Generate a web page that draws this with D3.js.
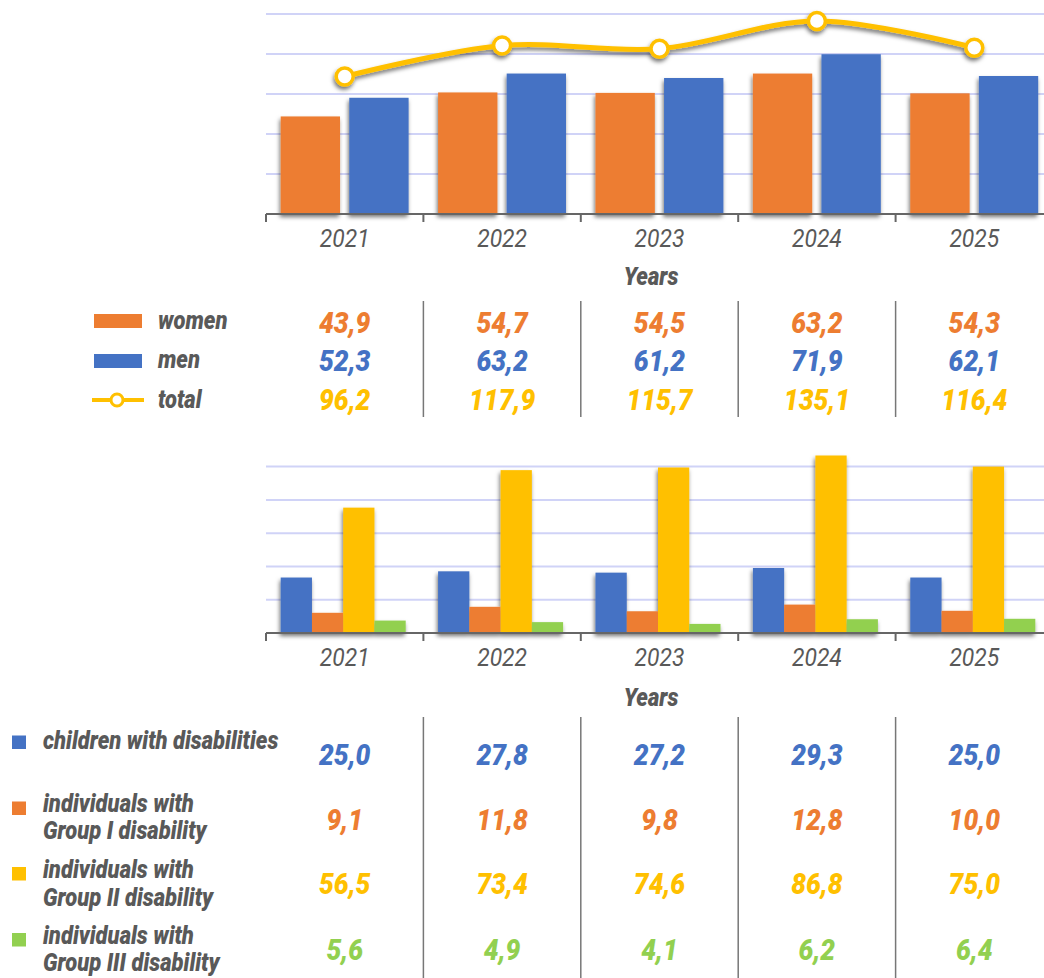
<!DOCTYPE html>
<html><head><meta charset="utf-8">
<script src="https://cdn.jsdelivr.net/npm/d3@7"></script>
<style>body{margin:0;background:#fff}svg{display:block}text{font-family:Roboto,'Noto Sans',sans-serif}</style>
</head><body><svg id="c" width="1044" height="978"></svg>
<script>
const years = ['2021','2022','2023','2024','2025'];
const women = [43.9, 54.7, 54.5, 63.2, 54.3];
const men = [52.3, 63.2, 61.2, 71.9, 62.1];
const total = [96.2, 117.9, 115.7, 135.1, 116.4];
const children = [25.0, 27.8, 27.2, 29.3, 25.0];
const group1 = [9.1, 11.8, 9.8, 12.8, 10.0];
const group2 = [56.5, 73.4, 74.6, 86.8, 75.0];
const group3 = [5.6, 4.9, 4.1, 6.2, 6.4];
const topTicks = [18, 36, 54, 72, 90];
const bottomTicks = [15, 30, 45, 60, 75];
const axisTitle = 'Years';

const C = {orange:'#ED7D31', blue:'#4472C4', yellow:'#FFC000', green:'#92D050', label:'#595959', grid:'#D0D3F7', axis:'#666'};

const svg = d3.select('#c');
const defs = svg.append('defs');
const f = defs.append('filter').attr('id','sh').attr('filterUnits','userSpaceOnUse')
  .attr('x',0).attr('y',0).attr('width',1044).attr('height',978);
f.append('feDropShadow').attr('dx',-1).attr('dy',3).attr('stdDeviation',2)
  .attr('flood-color','#000').attr('flood-opacity',0.55);

const SX = 0.88;
function txt(g, x, y, s, o) {
  return g.append('text')
    .attr('transform', `translate(${x},${y}) scale(${SX},1)`)
    .attr('text-anchor', o.anchor || 'start')
    .attr('font-size', o.size)
    .attr('font-weight', o.weight || 900)
    .attr('font-style', 'italic')
    .attr('fill', o.color || C.label)
    .text(s);
}
const fmt = v => d3.format('.1f')(v).replace('.', ',');

const x = d3.scaleBand().domain(years).range([266, 266 + 5 * 157.4]);
const bw = x.bandwidth();
const cx = d => x(d) + bw / 2;
const W = 1044;

function chartFrame(yScale, ticks) {
  const g = svg.append('g');
  g.selectAll('line.grid').data(ticks).join('line')
    .attr('x1', 266).attr('x2', W)
    .attr('y1', d => yScale(d)).attr('y2', d => yScale(d))
    .attr('stroke', C.grid).attr('stroke-width', 2);
  return g;
}
function chartAxis(y0, titleY) {
  const g = svg.append('g');
  g.append('line').attr('x1', 266).attr('x2', W).attr('y1', y0).attr('y2', y0)
    .attr('stroke', C.axis).attr('stroke-width', 2);
  const bounds = years.map(d => x(d));
  g.selectAll('line.tk').data(bounds).join('line')
    .attr('x1', d => d).attr('x2', d => d).attr('y1', y0).attr('y2', y0 + 8)
    .attr('stroke', C.axis).attr('stroke-width', 2);
  const ax = g.append('g').attr('transform', `translate(0,${y0})`)
    .call(d3.axisBottom(x).tickSize(0).tickPadding(15));
  ax.select('.domain').remove();
  ax.selectAll('text').attr('font-size', 26).attr('font-style', 'italic')
    .attr('font-family', 'Roboto, sans-serif').attr('fill', C.label)
    .attr('transform', `scale(${SX},1)`);
  txt(g, 651, titleY, axisTitle, {anchor:'middle', size:25});
}

// ---------- Top chart ----------
const yT = d3.scaleLinear().domain([0, 90]).range([214, 14]);
const yT2 = d3.scaleLinear().domain([0, 140]).range([214, 14]);
chartFrame(yT, topTicks);
const x1 = d3.scaleBand().domain(['women','men']).range([14.7, 142.6]).paddingInner(0.135);
const topSeries = [{k:'women', v:women, c:C.orange}, {k:'men', v:men, c:C.blue}];
const gTop = svg.append('g').attr('filter', 'url(#sh)');
topSeries.forEach(s => {
  gTop.selectAll(null).data(years).join('rect')
    .attr('x', (d) => x(d) + x1(s.k)).attr('width', x1.bandwidth())
    .attr('y', (d, i) => yT(s.v[i])).attr('height', (d, i) => 214 - yT(s.v[i]))
    .attr('fill', s.c);
});
chartAxis(214, 285);
const line = d3.line().x((d, i) => cx(years[i])).y(d => yT2(d)).curve(d3.curveCardinal.tension(0));
const gLine = svg.append('g').attr('filter', 'url(#sh)');
gLine.append('path').attr('d', line(total)).attr('fill', 'none').attr('stroke', C.yellow).attr('stroke-width', 5);
gLine.selectAll('circle').data(total).join('circle')
  .attr('cx', (d, i) => cx(years[i])).attr('cy', d => yT2(d)).attr('r', 8.5)
  .attr('fill', '#fff').attr('stroke', C.yellow).attr('stroke-width', 3.5);

// ---------- Top table ----------
const tT = svg.append('g');
tT.selectAll('line').data(years.slice(1)).join('line')
  .attr('x1', d => x(d)).attr('x2', d => x(d)).attr('y1', 301).attr('y2', 417)
  .attr('stroke', '#777').attr('stroke-width', 1.5);
tT.append('rect').attr('x', 94).attr('y', 314).attr('width', 48).attr('height', 14).attr('fill', C.orange);
tT.append('rect').attr('x', 94).attr('y', 354).attr('width', 48).attr('height', 14).attr('fill', C.blue);
tT.append('line').attr('x1', 92).attr('x2', 144).attr('y1', 400).attr('y2', 400).attr('stroke', C.yellow).attr('stroke-width', 4);
tT.append('circle').attr('cx', 117).attr('cy', 400).attr('r', 6).attr('fill', '#fff').attr('stroke', C.yellow).attr('stroke-width', 3);
txt(tT, 158, 329, 'women', {size:25});
txt(tT, 158, 368, 'men', {size:25});
txt(tT, 158, 408, 'total', {size:25});
[[women, C.orange, 333], [men, C.blue, 371], [total, C.yellow, 410]].forEach(([arr, col, yy]) => {
  arr.forEach((v, i) => txt(tT, cx(years[i]), yy, fmt(v), {anchor:'middle', size:30, color:col}));
});

// ---------- Bottom chart ----------
const yB = d3.scaleLinear().domain([0, 80]).range([633, 455.5]).clamp(true);
chartFrame(yB, bottomTicks);
const bKeys = ['children','g1','g2','g3'];
const x2 = d3.scaleBand().domain(bKeys).range([14.7, 139.7]).paddingInner(0);
const botSeries = [{k:'children', v:children, c:C.blue}, {k:'g1', v:group1, c:C.orange}, {k:'g2', v:group2, c:C.yellow}, {k:'g3', v:group3, c:C.green}];
const gBot = svg.append('g').attr('filter', 'url(#sh)');
years.forEach((yr, i) => {
  botSeries.forEach(s => {
    gBot.append('rect').attr('x', x(yr) + x2(s.k)).attr('width', x2.bandwidth())
      .attr('y', yB(s.v[i])).attr('height', 633 - yB(s.v[i])).attr('fill', s.c);
  });
});
chartAxis(633, 706);

// ---------- Bottom table ----------
const tB = svg.append('g');
tB.selectAll('line').data(years.slice(1)).join('line')
  .attr('x1', d => x(d)).attr('x2', d => x(d)).attr('y1', 717).attr('y2', 978)
  .attr('stroke', '#777').attr('stroke-width', 1.5);
const legB = [
  {c:C.blue, sy:735.5, lines:['children with disabilities'], ly:[749], v:children, vy:765},
  {c:C.orange, sy:801.5, lines:['individuals with','Group I disability'], ly:[811.5, 839], v:group1, vy:830},
  {c:C.yellow, sy:867, lines:['individuals with','Group II disability'], ly:[877.5, 905.5], v:group2, vy:893.5},
  {c:C.green, sy:933, lines:['individuals with','Group III disability'], ly:[943.5, 971], v:group3, vy:960}
];
legB.forEach(l => {
  tB.append('rect').attr('x', 12).attr('y', l.sy).attr('width', 14).attr('height', 13.5).attr('fill', l.c);
  l.lines.forEach((s, j) => txt(tB, 43, l.ly[j], s, {size:25}));
  l.v.forEach((v, i) => txt(tB, cx(years[i]), l.vy, fmt(v), {anchor:'middle', size:30, color:l.c}));
});
</script></body></html>
